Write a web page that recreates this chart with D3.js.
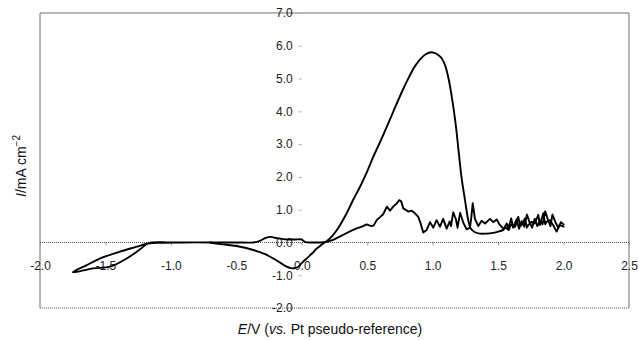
<!DOCTYPE html>
<html>
<head>
<meta charset="utf-8">
<script src="https://cdn.jsdelivr.net/npm/d3@7"></script>
<style>
  html, body { margin: 0; padding: 0; background: #fff; }
  svg { display: block; font-family: "Liberation Sans", Arial, Helvetica, sans-serif; }
</style>
</head>
<body>
<svg id="chart" width="639" height="340"></svg>
<script>
// ---- data (E in V, I in mA cm^-2) ----
const xTicks = [-2.0, -1.5, -1.0, -0.5, 0.0, 0.5, 1.0, 1.5, 2.0, 2.5];
const xTickLabels = ["-2.0", "-1.5", "-1.0", "-0.5", "0.0", "0.5", "1.0", "1.5", "2.0", "2.5"];
const yTicks = [-2, -1, 0, 1, 2, 3, 4, 5, 6, 7];
const yTickLabels = ["-2.0", "-1.0", "0.0", "1.0", "2.0", "3.0", "4.0", "5.0", "6.0", "7.0"];

// forward (anodic) scan, smooth part
const forwardSmooth = [
  [-0.70, 0.00], [-0.62, -0.05], [-0.50, -0.11], [-0.37, -0.23], [-0.28, -0.36],
  [-0.218, -0.49], [-0.16, -0.63], [-0.115, -0.74], [-0.077, -0.79], [-0.05, -0.78],
  [-0.027, -0.74], [0.00, -0.63], [0.037, -0.49], [0.08, -0.33], [0.11, -0.20],
  [0.139, -0.11], [0.175, 0.00], [0.215, 0.12], [0.28, 0.45], [0.343, 0.89],
  [0.39, 1.28], [0.445, 1.70], [0.50, 2.17], [0.546, 2.61], [0.60, 3.08],
  [0.65, 3.53], [0.70, 4.00], [0.768, 4.62], [0.82, 5.05], [0.87, 5.41],
  [0.947, 5.74], [0.997, 5.80], [1.06, 5.66], [1.094, 5.41], [1.124, 4.95],
  [1.15, 4.34], [1.175, 3.63], [1.20, 2.72], [1.22, 2.00], [1.247, 1.29],
  [1.272, 0.68], [1.29, 0.43], [1.323, 0.31], [1.36, 0.27], [1.41, 0.27],
  [1.46, 0.29], [1.50, 0.33], [1.54, 0.38]
];
// forward scan, noisy part up to the vertex
const forwardNoisy = [
  [1.54, 0.38], [1.565, 0.58], [1.578, 0.43], [1.60, 0.73], [1.615, 0.45],
  [1.63, 0.48], [1.654, 0.78], [1.668, 0.50], [1.68, 0.53], [1.705, 0.73],
  [1.72, 0.45], [1.73, 0.53], [1.756, 0.63], [1.78, 0.58], [1.807, 0.84],
  [1.82, 0.53], [1.845, 0.89], [1.86, 0.55], [1.87, 0.63], [1.896, 0.68],
  [1.92, 0.53], [1.947, 0.33], [1.97, 0.53], [2.00, 0.48]
];
// reverse scan, noisy part
const reverseNoisy = [
  [2.00, 0.55], [1.98, 0.62], [1.96, 0.45], [1.94, 0.60], [1.915, 0.85],
  [1.90, 0.50], [1.88, 0.70], [1.86, 0.95], [1.84, 0.55], [1.82, 0.68],
  [1.80, 0.50], [1.78, 0.72], [1.76, 0.45], [1.74, 0.62], [1.72, 0.85],
  [1.70, 0.48], [1.68, 0.65], [1.66, 0.42], [1.64, 0.70], [1.62, 0.50],
  [1.60, 0.55], [1.58, 0.38], [1.56, 0.45], [1.54, 0.42], [1.51, 0.55],
  [1.49, 0.70], [1.463, 0.62], [1.438, 0.72], [1.40, 0.58], [1.374, 0.66],
  [1.349, 0.50], [1.323, 0.72], [1.306, 1.20], [1.295, 0.75], [1.285, 0.45],
  [1.26, 0.40], [1.234, 0.60], [1.21, 0.90], [1.19, 0.45], [1.178, 0.70],
  [1.157, 0.92], [1.14, 0.50], [1.13, 0.64], [1.107, 0.42], [1.08, 0.72],
  [1.056, 0.48], [1.03, 0.68], [1.005, 0.45], [0.98, 0.62], [0.954, 0.38],
  [0.928, 0.30], [0.908, 0.58], [0.89, 0.78], [0.865, 0.89], [0.84, 0.97],
  [0.815, 0.94], [0.80, 0.98], [0.776, 1.04], [0.76, 1.25], [0.745, 1.29],
  [0.725, 1.19], [0.70, 1.10], [0.674, 0.97], [0.65, 1.09], [0.62, 0.85],
  [0.60, 0.78], [0.572, 0.68], [0.55, 0.52], [0.534, 0.50], [0.515, 0.52],
  [0.496, 0.55], [0.46, 0.48], [0.42, 0.43], [0.38, 0.36], [0.34, 0.28],
  [0.29, 0.18], [0.24, 0.08], [0.19, 0.02]
];
// reverse scan continued through cathodic vertex and back
const reverseSmooth = [
  [0.19, 0.02], [0.15, 0.00], [0.08, 0.00], [0.03, 0.01], [0.01, 0.06],
  [0.00, 0.09], [-0.05, 0.09], [-0.10, 0.09], [-0.14, 0.10], [-0.19, 0.13],
  [-0.24, 0.17], [-0.28, 0.13], [-0.32, 0.05], [-0.37, 0.00], [-0.50, 0.00],
  [-0.70, 0.00], [-1.00, 0.00], [-1.17, -0.02], [-1.236, -0.21], [-1.338, -0.49],
  [-1.465, -0.74], [-1.593, -0.79], [-1.75, -0.91], [-1.643, -0.69], [-1.516, -0.45],
  [-1.389, -0.28], [-1.261, -0.13], [-1.185, -0.04], [-1.10, -0.01], [-0.90, 0.00],
  [-0.70, 0.00]
];

// ---- layout ----
const svg = d3.select("#chart");
const mLeft = 40, mRight = 629, mTop = 13, mBottom = 308;

const x = d3.scaleLinear().domain([-2.0, 2.5]).range([mLeft, mRight]);
const y = d3.scaleLinear().domain([-2, 7]).range([mBottom, mTop]);

// frame
const frame = svg.append("g");
frame.append("line").attr("x1", mLeft).attr("x2", mRight).attr("y1", mTop).attr("y2", mTop)
  .attr("stroke", "#6e6e6e").attr("stroke-width", 1);
frame.append("line").attr("x1", mLeft).attr("x2", mLeft).attr("y1", mTop).attr("y2", mBottom)
  .attr("stroke", "#6e6e6e").attr("stroke-width", 1);
frame.append("line").attr("x1", mRight).attr("x2", mRight).attr("y1", mTop).attr("y2", mBottom)
  .attr("stroke", "#6e6e6e").attr("stroke-width", 1);
frame.append("line").attr("x1", mLeft).attr("x2", mRight).attr("y1", mBottom).attr("y2", mBottom)
  .attr("stroke", "#555").attr("stroke-width", 1).attr("stroke-dasharray", "1,1");

// x axis at I = 0 (dotted)
const xAxis = d3.axisBottom(x)
  .tickValues(xTicks)
  .tickFormat((d, i) => xTickLabels[i])
  .tickSize(3)
  .tickPadding(16);
const gx = svg.append("g").attr("transform", `translate(0,${y(0)})`).call(xAxis);
gx.select(".domain").remove();
gx.append("line").attr("x1", mLeft).attr("x2", mRight).attr("y1", 0).attr("y2", 0)
  .attr("stroke", "#444").attr("stroke-width", 1).attr("stroke-dasharray", "1,1");
gx.selectAll(".tick line").attr("stroke", "#999");
gx.selectAll(".tick text").attr("fill", "#222").attr("font-size", 12)
  .attr("font-family", "'Liberation Sans', Arial, sans-serif");

// y axis at E = 0
const yAxis = d3.axisLeft(y)
  .tickValues(yTicks)
  .tickFormat((d, i) => yTickLabels[i])
  .tickSize(3)
  .tickPadding(6);
const gy = svg.append("g").attr("transform", `translate(${x(0)},0)`).call(yAxis);
gy.select(".domain").remove();
gy.selectAll(".tick line").attr("stroke", "#aaa");
gy.selectAll(".tick text").attr("fill", "#222").attr("font-size", 12)
  .attr("font-family", "'Liberation Sans', Arial, sans-serif");

// curves
const smoothLine = d3.line().x(d => x(d[0])).y(d => y(d[1])).curve(d3.curveCatmullRom.alpha(0.5));
const noisyLine = d3.line().x(d => x(d[0])).y(d => y(d[1])).curve(d3.curveLinear);
const curves = svg.append("g").attr("fill", "none").attr("stroke", "#000")
  .attr("stroke-width", 1.9).attr("stroke-linejoin", "round").attr("stroke-linecap", "round");
curves.append("path").attr("d", smoothLine(forwardSmooth));
curves.append("path").attr("d", noisyLine(forwardNoisy));
curves.append("path").attr("d", noisyLine(reverseNoisy));
curves.append("path").attr("d", smoothLine(reverseSmooth));

// axis titles
const xt = svg.append("text").attr("x", 330).attr("y", 334).attr("text-anchor", "middle")
  .attr("font-size", 14).attr("fill", "#111");
xt.append("tspan").attr("font-style", "italic").text("E");
xt.append("tspan").text("/V (");
xt.append("tspan").attr("font-style", "italic").text("vs.");
xt.append("tspan").text(" Pt pseudo-reference)");

const yt = svg.append("text").attr("transform", "translate(26,166) rotate(-90)")
  .attr("text-anchor", "middle").attr("font-size", 14).attr("fill", "#111");
yt.append("tspan").attr("font-style", "italic").text("I");
yt.append("tspan").text("/mA cm");
yt.append("tspan").attr("dy", -6).attr("font-size", 10).text("\u22122");
</script>
</body>
</html>
